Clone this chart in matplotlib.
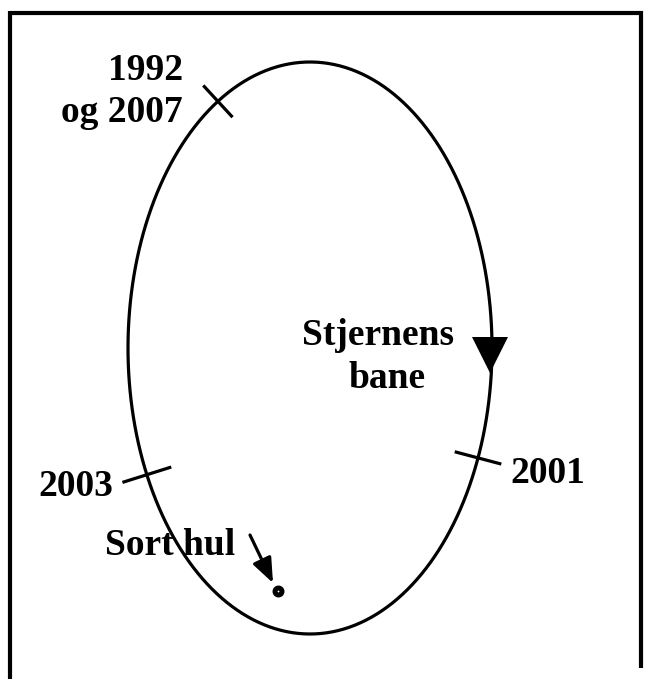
import numpy as np
import matplotlib
matplotlib.use("Agg")
import matplotlib.pyplot as plt

# Orbit (ellipse) parameters, in image pixel units (y down)
orbit_center = (310, 348)
orbit_axes = (182, 286)

# Year marks on the orbit: label, parametric angle (deg), tick length
years = ["1992\nog 2007", "2003", "2001"]
year_angles = [-120.4, 153.7, 22.6]
tick_lengths = [40, 48, 45]

black_hole = (278, 591)

fig = plt.figure(figsize=(6.51, 6.79), dpi=100)
ax = fig.add_axes([0, 0, 1, 1])
ax.set_xlim(0, 651)
ax.set_ylim(679, 0)
ax.axis("off")

font = dict(family="Liberation Serif", fontweight="bold", fontsize=27, color="black")

# frame
ax.plot([10, 643], [13, 13], color="black", lw=3, solid_capstyle="butt")
ax.plot([10, 10], [11, 679], color="black", lw=3, solid_capstyle="butt")
ax.plot([641, 641], [11, 668], color="black", lw=3, solid_capstyle="butt")

cx, cy = orbit_center
a, b = orbit_axes
t = np.linspace(0, 2 * np.pi, 600)
ax.plot(cx + a * np.cos(t), cy + b * np.sin(t), color="black", lw=2.3)

def point_normal(deg):
    tt = np.radians(deg)
    p = np.array([cx + a * np.cos(tt), cy + b * np.sin(tt)])
    tan = np.array([-a * np.sin(tt), b * np.cos(tt)])
    tan /= np.linalg.norm(tan)
    nrm = np.array([tan[1], -tan[0]])
    return p, tan, nrm

for lab, ang, L in zip(years, year_angles, tick_lengths):
    p, tan, nrm = point_normal(ang)
    p1, p2 = p - nrm * L / 2, p + nrm * L / 2
    ax.plot([p1[0], p2[0]], [p1[1], p2[1]], color="black", lw=2.3)

ax.text(183, 122, years[0], ha="right", va="baseline", linespacing=1.25, **font)
ax.text(113, 496, years[1], ha="right", va="baseline", **font)
ax.text(510, 483, years[2], ha="left", va="baseline", **font)

# direction triangle
ax.plot([490], [355], marker="v", markersize=26, color="black", markeredgewidth=0)

ax.text(378, 345, "Stjernens", ha="center", va="baseline", **font)
ax.text(387, 388, "bane", ha="center", va="baseline", **font)

# black hole
ax.text(105, 555, "Sort hul", ha="left", va="baseline", **font)
ax.annotate("", xy=(273, 583), xytext=(250, 535),
            arrowprops=dict(arrowstyle="-|>,head_length=1.5,head_width=0.6",
                            color="black", lw=2.3, shrinkA=0, shrinkB=0))
ax.plot([black_hole[0]], [black_hole[1]], marker="o", markersize=5,
        markerfacecolor="white", markeredgecolor="black", markeredgewidth=3.6)

fig.savefig("out.png", dpi=100)
